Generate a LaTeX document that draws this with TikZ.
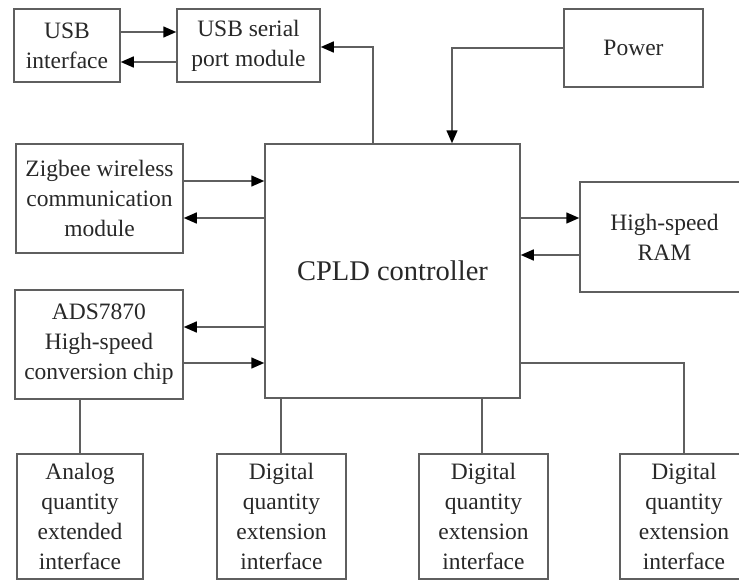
\documentclass[tikz,border=0pt]{standalone}
\usepackage{fontspec}
\setmainfont{Liberation Serif}
\usetikzlibrary{arrows.meta}
\definecolor{linecol}{RGB}{95,95,95}
\definecolor{txtcol}{RGB}{40,40,40}
\begin{document}
\begin{tikzpicture}[x=1pt,y=-1pt,
  box/.style={draw=linecol,line width=1.5pt,rectangle,inner sep=0pt,align=center,
    text=txtcol,font=\fontsize{23.5}{30}\selectfont},
  conn/.style={draw=linecol,line width=1.5pt},
  arr/.style={conn,-{Triangle[length=13pt,width=11pt,black]}}]
\useasboundingbox (0,0) rectangle (739,581);
\clip (0,0) rectangle (739,581);
\fill[white] (0,0) rectangle (739,581);
\node[box,minimum width=106pt,minimum height=73pt] (usbi) at (67,45.5) {USB\\interface};
\node[box,minimum width=143pt,minimum height=73pt] (usbs) at (248.5,45.5) {USB serial\\port module};
\node[box,minimum width=139pt,minimum height=78pt] (power) at (633.5,48) {Power};
\node[box,minimum width=167pt,minimum height=109pt] (zig) at (99.5,198.5) {Zigbee wireless\\communication\\module};
\node[box,minimum width=168pt,minimum height=109pt] (ads) at (99,344.5) {ADS7870\\High-speed\\conversion chip};
\node[box,minimum width=255pt,minimum height=254pt,font=\fontsize{28.5}{34}\selectfont] (cpld) at (392.5,271) {CPLD controller};
\node[box,minimum width=169pt,minimum height=110pt] (ram) at (664.5,237) {High-speed\\RAM};
\node[box,minimum width=126pt,minimum height=125pt] (analog) at (80,516.5) {Analog\\quantity\\extended\\interface};
\node[box,minimum width=129pt,minimum height=125pt] (dig1) at (281.5,516.5) {Digital\\quantity\\extension\\interface};
\node[box,minimum width=129pt,minimum height=125pt] (dig2) at (483.5,516.5) {Digital\\quantity\\extension\\interface};
\node[box,minimum width=128pt,minimum height=125pt] (dig3) at (684,516.5) {Digital\\quantity\\extension\\interface};
% USB
\draw[arr] (usbi.east |- 0,32) -- (usbs.west |- 0,32);
\draw[arr] (usbs.west |- 0,62) -- (usbi.east |- 0,62);
\draw[arr] (cpld.north -| 373,0) |- (usbs.east |- 0,47);
\draw[arr] (power.west) -| (cpld.north -| 452,0);
% Zigbee
\draw[arr] (zig.east |- 0,181) -- (cpld.west |- 0,181);
\draw[arr] (cpld.west |- 0,218) -- (zig.east |- 0,218);
% ADS
\draw[arr] (cpld.west |- 0,327) -- (ads.east |- 0,327);
\draw[arr] (ads.east |- 0,363) -- (cpld.west |- 0,363);
% RAM
\draw[arr] (cpld.east |- 0,218) -- (ram.west |- 0,218);
\draw[arr] (ram.west |- 0,255) -- (cpld.east |- 0,255);
% bottom
\draw[conn] (ads.south -| analog.north) -- (analog.north);
\draw[conn] (cpld.south -| 281,0) -- (dig1.north -| 281,0);
\draw[conn] (cpld.south -| 482,0) -- (dig2.north -| 482,0);
\draw[conn] (cpld.east |- 0,363) -| (dig3.north);
\end{tikzpicture}
\end{document}
